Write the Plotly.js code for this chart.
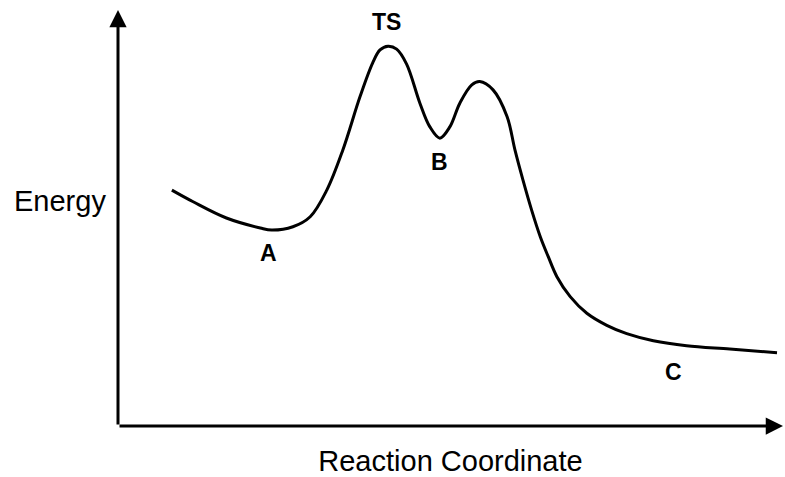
<!DOCTYPE html>
<html>
<head>
<meta charset="utf-8">
<script src="https://cdn.plot.ly/plotly-3.0.1.min.js"></script>
<style>html,body{margin:0;padding:0;background:#fff;}#chart{width:785px;height:477px;}</style>
</head>
<body>
<div id="chart"></div>
<script>
// Reaction coordinate (arbitrary units, 0-10) and energy (arbitrary units, 0-10)
const reactionCoord = [0.81,1.13,1.63,2.14,2.31,2.63,2.89,3.14,3.38,3.64,3.83,3.94,4.06,4.19,4.34,4.54,4.69,4.84,4.99,5.14,5.32,5.44,5.64,5.85,5.97,6.09,6.22,6.35,6.47,6.60,6.80,7.05,7.35,7.65,8.05,8.55,9.20,9.91];
const energy        = [5.67,5.39,5.00,4.76,4.71,4.79,5.03,5.67,6.63,7.92,8.73,9.04,9.13,9.06,8.70,7.76,7.19,6.92,7.19,7.76,8.20,8.28,8.08,7.44,6.63,5.91,5.19,4.55,4.07,3.59,3.11,2.71,2.42,2.22,2.05,1.93,1.85,1.76];

const labelText = ["TS","A","B","C"];
const labelX    = [4.03,2.27,4.84,8.35];
const labelY    = [9.71,4.15,6.35,1.31];

const xTitle = "Reaction Coordinate";
const yTitle = "Energy";

const trace = {
  x: reactionCoord, y: energy, type: 'scatter', mode: 'lines',
  line: {color: '#000', width: 3, shape: 'spline', smoothing: 1},
  hoverinfo: 'skip'
};

const annotations = labelText.map((t,i)=>({
  x: labelX[i], y: labelY[i], xref:'x', yref:'y', text: '<b>'+t+'</b>', showarrow:false,
  font:{family:'Liberation Sans, Arial, sans-serif', size:23, color:'#000'},
  xanchor:'center', yanchor:'middle'
}));

// axis arrows
annotations.push({x:1, y:0, xref:'paper', yref:'paper', ax:-665, ay:0, axref:'pixel', ayref:'pixel',
  showarrow:true, arrowhead:2, arrowsize:1.15, arrowwidth:3, arrowcolor:'#000', text:''});
annotations.push({x:0, y:1, xref:'paper', yref:'paper', ax:0, ay:416, axref:'pixel', ayref:'pixel',
  showarrow:true, arrowhead:2, arrowsize:1.15, arrowwidth:3, arrowcolor:'#000', text:''});

// y label (horizontal)
annotations.push({x:-0.0865, y:0.54, xref:'paper', yref:'paper', text:yTitle, showarrow:false,
  xanchor:'center', yanchor:'middle', font:{family:'Liberation Sans, Arial, sans-serif', size:29, color:'#000'}});

const layout = {
  width:785, height:477,
  margin:{l:118, r:2, t:10, b:51},
  paper_bgcolor:'#fff', plot_bgcolor:'#fff',
  showlegend:false,
  xaxis:{range:[0,10], showgrid:false, zeroline:false, showticklabels:false, ticks:'', showline:false,
    title:{text:xTitle, standoff:26, font:{family:'Liberation Sans, Arial, sans-serif', size:29, color:'#000'}}},
  yaxis:{range:[0,10], showgrid:false, zeroline:false, showticklabels:false, ticks:'', showline:false},
  annotations: annotations
};

Plotly.newPlot('chart', [trace], layout, {staticPlot:true, displayModeBar:false});
</script>
</body>
</html>
